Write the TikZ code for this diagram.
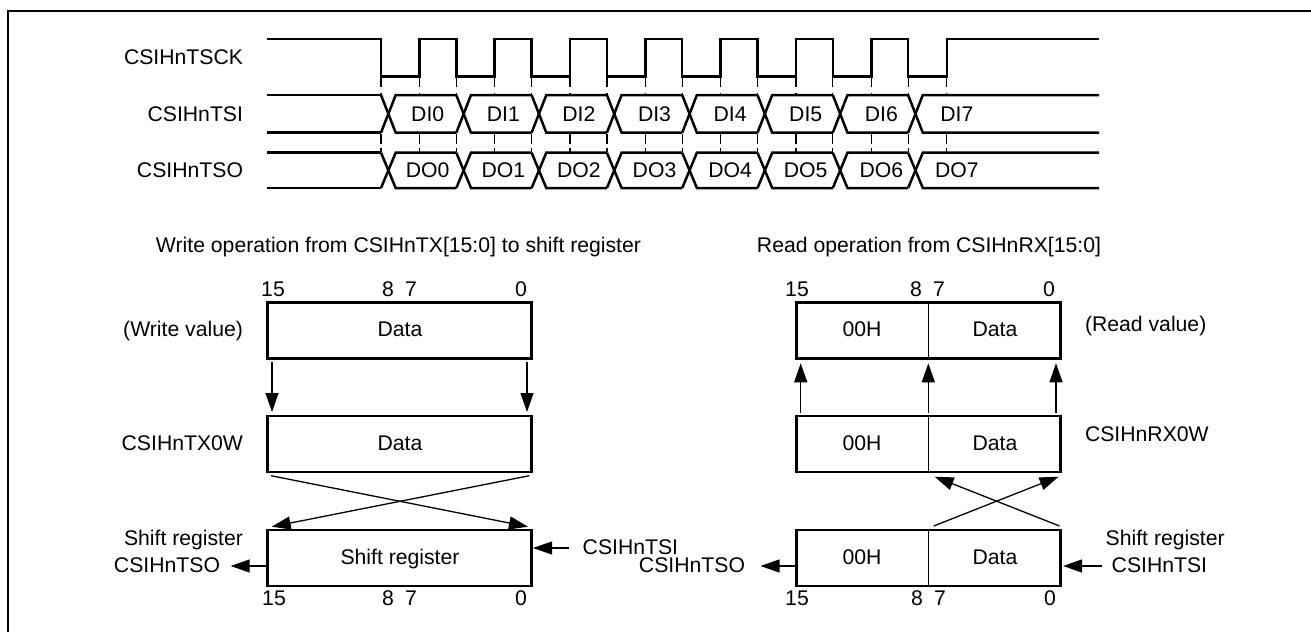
\documentclass[tikz,border=0pt]{standalone}
\usepackage{fontspec}
\setmainfont{Liberation Sans}
\usetikzlibrary{arrows.meta,calc}
\tikzset{
  lab/.style={inner sep=0pt,outer sep=0pt,font=\fontsize{21.2}{24}\selectfont},
  regbox/.style={draw=black,line width=2.6pt,inner sep=0pt,outer sep=0pt,minimum width=264pt,minimum height=56pt},
  wave/.style={line width=2.5pt,line join=miter,line cap=butt},
  tick/.style={line width=1.2pt},
  arr/.style={line width=1.3pt,-{Triangle[length=19pt,width=13pt]}},
  thinline/.style={line width=1.2pt}
}
\begin{document}
\begin{tikzpicture}[x=1pt,y=-1pt]
\useasboundingbox (0,0) rectangle (1311,632);
% frame (top and left only)
\coordinate (frameTR) at (1311,11);
\coordinate (frameTL) at (8,11);
\coordinate (frameBL) at (8,632);
\draw[line width=2.4pt] (frameTR) -- (frameTL) -- (frameBL);
% signal labels
\node[lab,anchor=base east] (lsck) at (243,64) {CSIHnTSCK};
\node[lab,anchor=base east] (lsi) at (243,121) {CSIHnTSI};
\node[lab,anchor=base east] (lso) at (243,177) {CSIHnTSO};
% ticks
\foreach \i in {0,...,7}{
  \foreach \x in {381+75.3*\i,419.3+75.35*\i}{
    \draw[tick] ({\x},78) -- ({\x},87);
    \draw[tick] ({\x},93) -- ({\x},95);
    \draw[tick] ({\x},134) -- ({\x},144);
    \draw[tick] ({\x},148) -- ({\x},152);
  }
}
% clock
\draw[wave] (267,39) -- (381,39)
  \foreach \i in {0,...,7}{ -- ({381+75.3*\i},39) -- ({381+75.3*\i},76.7) -- ({419.3+75.35*\i},76.7) -- ({419.3+75.35*\i},39) }
  -- (1099,39);
% data buses
\foreach \hi/\lo in {95/132.7,152.7/188}{
  \draw[wave] (267,\hi) -- (381,\hi);
  \draw[wave] (267,\lo) -- (381,\lo);
  \foreach \i in {0,...,7}{
    \pgfmathsetmacro{\f}{381+75.3*\i}
    \pgfmathsetmacro{\g}{\f+14.7}
    \pgfmathsetmacro{\n}{\i<7 ? \f+75.3 : 1099}
    \draw[wave] (\f,\hi) -- (\g,\lo) -- (\n,\lo);
    \draw[wave] (\f,\lo) -- (\g,\hi) -- (\n,\hi);
  }
}
\foreach \i in {0,...,7}{
  \node[lab,anchor=base] (di\i) at ({427.7+75.6*\i},121) {DI\i};
  \node[lab,anchor=base] (do\i) at ({427.7+75.6*\i},177) {DO\i};
}
% titles
\node[lab,anchor=base] (tw) at (398.5,252.7) {Write operation from CSIHnTX[15:0] to shift register};
\node[lab,anchor=base] (tr) at (929,252.7) {Read operation from CSIHnRX[15:0]};
% left registers
\node[regbox] (wa) at (399.5,330.3) {};
\node[regbox] (wb) at (399.5,444) {};
\node[regbox] (wc) at (399.5,557.8) {};
\node[lab,anchor=base] (wat) at (400,336.7) {Data};
\node[lab,anchor=base] (wbt) at (400,450) {Data};
\node[lab,anchor=base] (wct) at (400,564) {Shift register};
% right registers
\node[regbox] (ra) at (928.3,330.3) {};
\node[regbox] (rb) at (928.3,444) {};
\node[regbox] (rc) at (928.3,557.8) {};
\foreach \n/\y in {ra/336.7,rb/450,rc/564}{
  \node[lab,anchor=base] (\n h) at (862,\y) {00H};
  \node[lab,anchor=base] (\n d) at (995,\y) {Data};
}
\draw[thinline] (ra.north) -- (ra.south);
\draw[thinline] (rb.north) -- (rb.south);
\draw[thinline] (rc.north) -- (rc.south);
% bit numbers
\node[lab,anchor=base] (b1) at (273,296) {15};
\node[lab,anchor=base] (b2) at (388,296) {8};
\node[lab,anchor=base] (b3) at (411,296) {7};
\node[lab,anchor=base] (b4) at (521,296) {0};
\node[lab,anchor=base] (b5) at (274,605) {15};
\node[lab,anchor=base] (b6) at (388,605) {8};
\node[lab,anchor=base] (b7) at (411,605) {7};
\node[lab,anchor=base] (b8) at (521,605) {0};
\node[lab,anchor=base] (b9) at (797,296) {15};
\node[lab,anchor=base] (b10) at (916,296) {8};
\node[lab,anchor=base] (b11) at (939,296) {7};
\node[lab,anchor=base] (b12) at (1049,296) {0};
\node[lab,anchor=base] (b13) at (797,605) {15};
\node[lab,anchor=base] (b14) at (917,605) {8};
\node[lab,anchor=base] (b15) at (940,605) {7};
\node[lab,anchor=base] (b16) at (1050,605) {0};
% side labels
\node[lab,anchor=base east] (lw) at (243,336.7) {(Write value)};
\node[lab,anchor=base east] (ltx) at (243,450) {CSIHnTX0W};
\node[lab,anchor=base east] (lsr) at (243,545) {Shift register};
\node[lab,anchor=base east] (ltso) at (220,572.7) {CSIHnTSO};
\node[lab,anchor=base west] (ltsi) at (582.7,554.3) {CSIHnTSI};
\node[lab,anchor=base east] (rtso) at (745,572.7) {CSIHnTSO};
\node[lab,anchor=base west] (lrd) at (1085,331.7) {(Read value)};
\node[lab,anchor=base west] (lrx) at (1085,441) {CSIHnRX0W};
\node[lab,anchor=base west] (rsr) at (1105.7,545) {Shift register};
\node[lab,anchor=base west] (rtsi) at (1111.7,572.7) {CSIHnTSI};
% write arrows
\coordinate (w1s) at (272,362); \coordinate (w1e) at (272,412);
\coordinate (w2s) at (527,362); \coordinate (w2e) at (527,412);
\draw[arr] (w1s) -- (w1e);
\draw[arr] (w2s) -- (w2e);
\coordinate (x1s) at (271,475.7); \coordinate (x1e) at (528,526.7);
\coordinate (x2s) at (529.3,475.7); \coordinate (x2e) at (271.7,526.7);
\draw[arr] (x1s) -- (x1e);
\draw[arr] (x2s) -- (x2e);
\coordinate (t1) at (230.7,566);
\coordinate (t2s) at (569.3,548); \coordinate (t2e) at (533,548);
\draw[arr] (wc.west |- t1) -- (t1);
\draw[arr] (t2s) -- (t2e);
% read arrows
\foreach \x/\k in {800.7/a,928.3/b,1056/c}{
  \coordinate (u\k s) at (\x,412.7); \coordinate (u\k e) at (\x,363.3);
  \draw[arr] (u\k s) -- (u\k e);
}
\coordinate (y1s) at (933.7,526); \coordinate (y1e) at (1058.6,476.7);
\coordinate (y2s) at (1059.5,526); \coordinate (y2e) at (934.6,476.7);
\draw[arr] (y1s) -- (y1e);
\draw[arr] (y2s) -- (y2e);
\coordinate (t3) at (760.5,566);
\coordinate (t4s) at (1101.6,566); \coordinate (t4e) at (1063,566);
\draw[arr] (rc.west |- t3) -- (t3);
\draw[arr] (t4s) -- (t4e);
\end{tikzpicture}
\end{document}
